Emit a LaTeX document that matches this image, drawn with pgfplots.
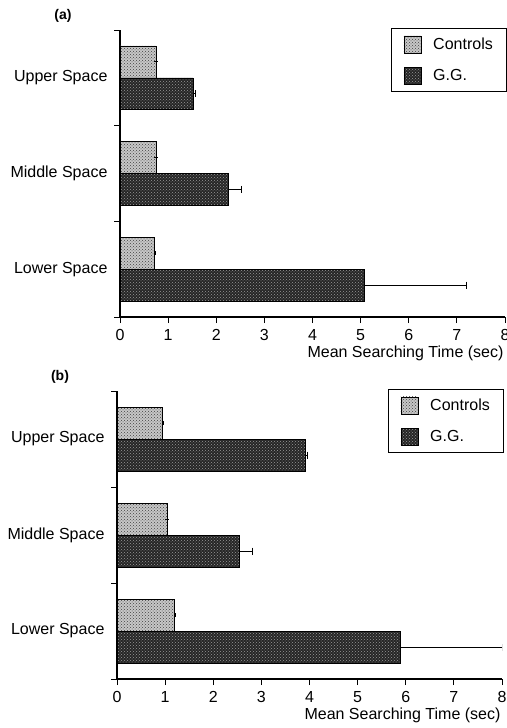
\documentclass[border=0pt]{standalone}
\usepackage{fontspec}
\setmainfont{Liberation Sans}
\usepackage{pgfplots}
\pgfplotsset{compat=1.18}
\usetikzlibrary{patterns}

\pgfplotsset{
  panel/.style={
    scale only axis,
    width=385pt,
    anchor=south west,
    xmin=0, xmax=8, ymin=0, ymax=3,
    axis x line*=bottom, axis y line*=left,
    axis line style={line width=1.2pt},
    tick style={line width=1pt, black},
    tick align=outside,
    major tick length=6pt,
    xtick={0,...,8},
    xticklabel style={yshift=-3pt},
    ytick={0,1,2,3}, yticklabels={},
    extra y ticks={0.5,1.5,2.5},
    extra y tick labels={Lower Space, Middle Space, Upper Space},
    extra y tick style={major tick length=0pt, yticklabel style={xshift=-9pt}},
    font=\fontsize{16}{19}\selectfont,
    ticklabel style={font=\fontsize{16}{19}\selectfont},
    /pgf/number format/assume math mode=true,
    xlabel={Mean Searching Time (sec)},
    xlabel style={at={(axis description cs:1,0)}, anchor=north east,
                  yshift=-25pt, xshift=2pt},
    legend cell align=left,
    legend image code/.code={\draw[#1] (0pt,-8.5pt) rectangle (17pt,8.5pt);},
    legend style={anchor=north west, draw=black, line width=1.2pt,
                  font=\fontsize{16}{19}\selectfont,
                  inner xsep=12pt, inner ysep=7pt, row sep=14pt,
                  column sep=10pt,
                  nodes={line width=0.6pt}},
  },
  ctrl/.style={xbar, bar width=0.333, bar shift=0,
    draw=black, line width=0.6pt, fill=black!22,
    postaction={pattern=crosshatch dots, pattern color=black!75},
    error bars/.cd, x dir=plus, x explicit,
    error bar style={line width=0.8pt, black},
    error mark options={rotate=90, line width=0.8pt, mark size=2pt, black}},
  gg/.style={xbar, bar width=0.333, bar shift=0,
    draw=black, line width=0.6pt, fill=black!85,
    postaction={pattern=crosshatch dots, pattern color=black!40},
    error bars/.cd, x dir=plus, x explicit,
    error bar style={line width=0.8pt, black},
    error mark options={rotate=90, line width=0.8pt, mark size=3.5pt, black}},
}

\begin{document}
\begin{tikzpicture}
\useasboundingbox (0,0) rectangle (506pt,-728pt);

\node[font=\fontsize{14}{16}\selectfont\bfseries] at (63pt,-16pt) {(a)};
\node[font=\fontsize{14}{16}\selectfont\bfseries] at (60pt,-377pt) {(b)};

% panel (a)
\begin{axis}[panel, at={(120pt,-317pt)}, height=287pt,
    legend style={at={(0.704,1.007)}}]
\addplot[ctrl] coordinates {(0.71,0.6667) +- (0.02,0) (0.75,1.6667) +- (0,0) (0.75,2.6667) +- (0,0)};
\addplot[gg] coordinates {(5.07,0.3333) +- (2.12,0) (2.24,1.3333) +- (0.29,0) (1.52,2.3333) +- (0.04,0)};
\addlegendimage{draw=black, line width=0.8pt, fill=black!22, postaction={pattern=crosshatch dots, pattern color=black!75}}
\addlegendentry{Controls}
\addlegendimage{draw=black, fill=black}
\addlegendentry{G.G.}
\end{axis}

% panel (b)
\begin{axis}[panel, at={(117pt,-679pt)}, height=288pt,
    legend style={at={(0.704,1.007)}}]
\addplot[ctrl] coordinates {(1.20,0.6667) +- (0.02,0) (1.04,1.6667) +- (0,0) (0.94,2.6667) +- (0.02,0)};
\addplot[gg] coordinates {(5.88,0.3333) +- (2.12,0) (2.54,1.3333) +- (0.27,0) (3.91,2.3333) +- (0.05,0)};
\addlegendimage{draw=black, line width=0.8pt, fill=black!22, postaction={pattern=crosshatch dots, pattern color=black!75}}
\addlegendentry{Controls}
\addlegendimage{draw=black, fill=black}
\addlegendentry{G.G.}
\end{axis}
\end{tikzpicture}
\end{document}
